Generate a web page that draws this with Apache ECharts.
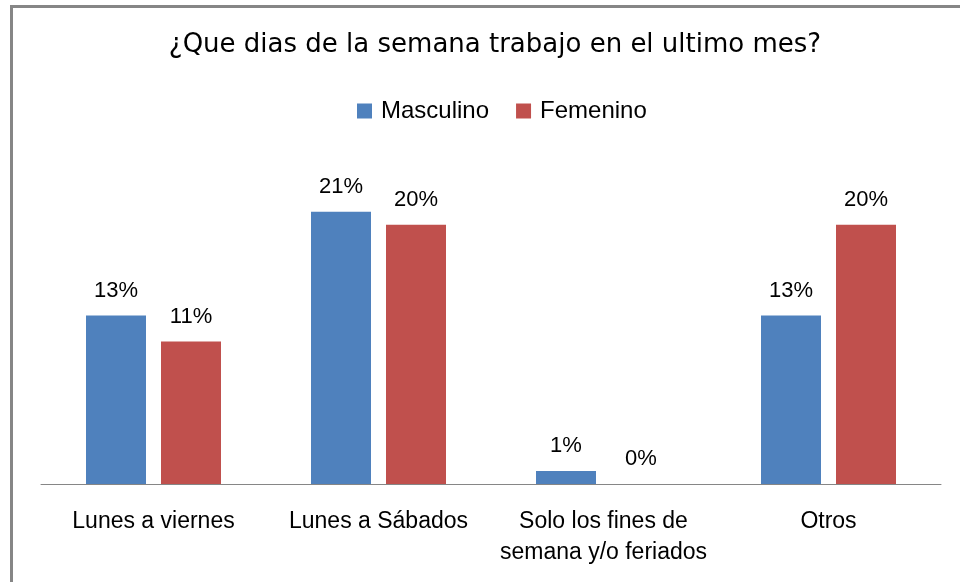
<!DOCTYPE html>
<html>
<head>
<meta charset="utf-8">
<script src="https://cdn.jsdelivr.net/npm/echarts@6/dist/echarts.min.js"></script>
<style>
  html, body { margin: 0; padding: 0; background: #fff; }
  #chart { width: 960px; height: 582px; }
</style>
</head>
<body>
<div id="chart"></div>
<script>
const categories = [
  'Lunes a viernes',
  'Lunes a Sábados',
  'Solo los fines de\nsemana y/o feriados',
  'Otros'
]
const masculino = [13, 21, 1, 13]
const femenino = [11, 20, 0, 20]

const labelFont = 'Liberation Sans, Arial, sans-serif'

const myChart = echarts.init(document.getElementById('chart'))
const option = {
  animation: false,
  title: {
    text: '¿Que dias de la semana trabajo en el ultimo mes?',
    left: 490,
    textAlign: 'center',
    top: 27,
    textStyle: {
      fontFamily: 'DejaVu Sans',
      fontSize: 26,
      fontWeight: 'normal',
      color: '#000'
    }
  },
  legend: {
    top: 94,
    left: 352,
    icon: 'rect',
    itemWidth: 15,
    itemHeight: 15,
    itemGap: 27,
    textStyle: {
      fontFamily: labelFont,
      fontSize: 24,
      color: '#000',
      padding: [0, 0, 0, 4]
    },
    data: ['Masculino', 'Femenino']
  },
  grid: {
    left: 41,
    right: 19,
    top: 160,
    bottom: 98
  },
  xAxis: {
    type: 'category',
    data: categories,
    axisLine: { lineStyle: { color: '#868686', width: 1 } },
    axisTick: { show: false },
    axisLabel: {
      interval: 0,
      margin: 22,
      fontFamily: labelFont,
      fontSize: 23,
      lineHeight: 31,
      color: '#000'
    }
  },
  yAxis: {
    type: 'value',
    min: 0,
    max: 25,
    show: false,
    splitLine: { show: false }
  },
  graphic: [
    {
      type: 'rect',
      shape: { x: 11.5, y: 6.5, width: 2000, height: 2000 },
      style: { fill: 'none', stroke: '#868686', lineWidth: 3 },
      silent: true
    }
  ],
  series: [
    {
      name: 'Masculino',
      type: 'bar',
      data: masculino,
      barGap: '25%',
      barCategoryGap: '40%',
      itemStyle: { color: '#4F81BD' },
      label: {
        show: true,
        position: 'top',
        distance: 14,
        formatter: '{c}%',
        fontFamily: labelFont,
        fontSize: 22,
        color: '#000'
      }
    },
    {
      name: 'Femenino',
      type: 'bar',
      data: femenino,
      barGap: '25%',
      barCategoryGap: '40%',
      itemStyle: { color: '#C0504D' },
      label: {
        show: true,
        position: 'top',
        distance: 14,
        formatter: '{c}%',
        fontFamily: labelFont,
        fontSize: 22,
        color: '#000'
      }
    }
  ]
}
myChart.setOption(option)
</script>
</body>
</html>
